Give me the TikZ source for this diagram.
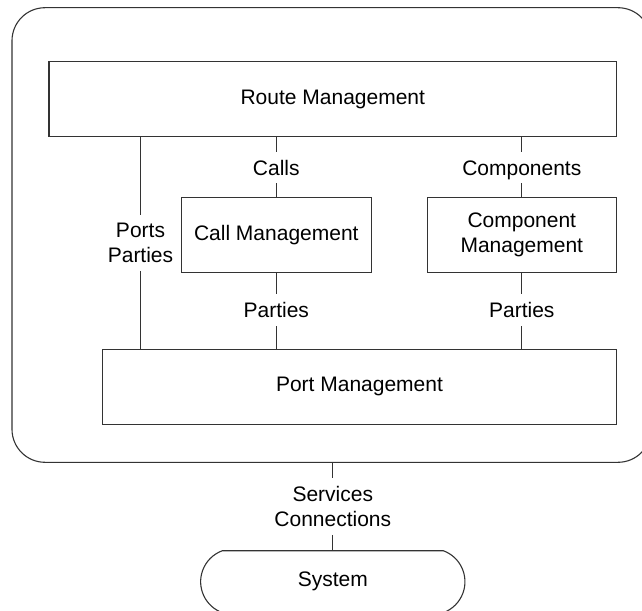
\documentclass[tikz,border=0pt]{standalone}
\usepackage{fontspec}
\setmainfont{Liberation Sans}
\usetikzlibrary{shapes.misc}
\begin{document}
\begin{tikzpicture}[x=1pt,y=-1pt,
  every node/.style={font=\fontsize{21}{25}\selectfont, text=black},
  box/.style={draw=black!80, line width=1.1pt, inner sep=0pt, align=center},
  tag/.style={inner xsep=2pt, inner ysep=8pt, text height=15.3pt, text depth=0pt},
  tagtwo/.style={inner xsep=2pt, inner ysep=8pt, align=center},
  link/.style={draw=black!80, line width=1.1pt}]
\useasboundingbox (0,0) rectangle (642,610);

% enclosing subsystem
\node[box, rounded corners=33pt, minimum width=639pt, minimum height=454.6pt] (outer) at (331.5,235) {};

% managers
\node[box, minimum width=567.7pt, minimum height=75.4pt] (route) at (332.8,99) {Route Management};
\node[box, minimum width=189.6pt, minimum height=75.4pt] (call) at (276.3,235) {Call Management};
\node[box, minimum width=189pt, minimum height=75.4pt] (comp) at (521.8,235) {Component\\Management};
\node[box, minimum width=514.3pt, minimum height=75.3pt] (port) at (359.5,386.7) {Port Management};

% external system
\node[box, rounded rectangle, rounded rectangle arc length=140, minimum width=264.3pt, minimum height=62pt] (sys) at (332.8,581.7) {System};

% interface labels
\node[tag] (calls) at (276.3,167.5) {Calls};
\node[tag] (comps) at (521.8,167.5) {Components};
\node[tagtwo] (pp) at (140.5,242.8) {Ports\\Parties};
\node[tag] (parA) at (276.3,310.3) {Parties};
\node[tag] (parB) at (521.8,310.3) {Parties};
\node[tagtwo] (svc) at (332.8,506.5) {Services\\Connections};

% connectors
\draw[link] (route.south -| pp) -- (pp.north);
\draw[link] (pp.south) -- (port.north -| pp);
\draw[link] (route.south -| calls) -- (calls.north);
\draw[link] (calls.south) -- (call.north);
\draw[link] (route.south -| comps) -- (comps.north);
\draw[link] (comps.south) -- (comp.north);
\draw[link] (call.south) -- (parA.north);
\draw[link] (parA.south) -- (port.north -| parA);
\draw[link] (comp.south) -- (parB.north);
\draw[link] (parB.south) -- (port.north -| parB);
\draw[link] (outer.south -| svc) -- (svc.north);
\draw[link] (svc.south) -- (sys.north);
\end{tikzpicture}
\end{document}
